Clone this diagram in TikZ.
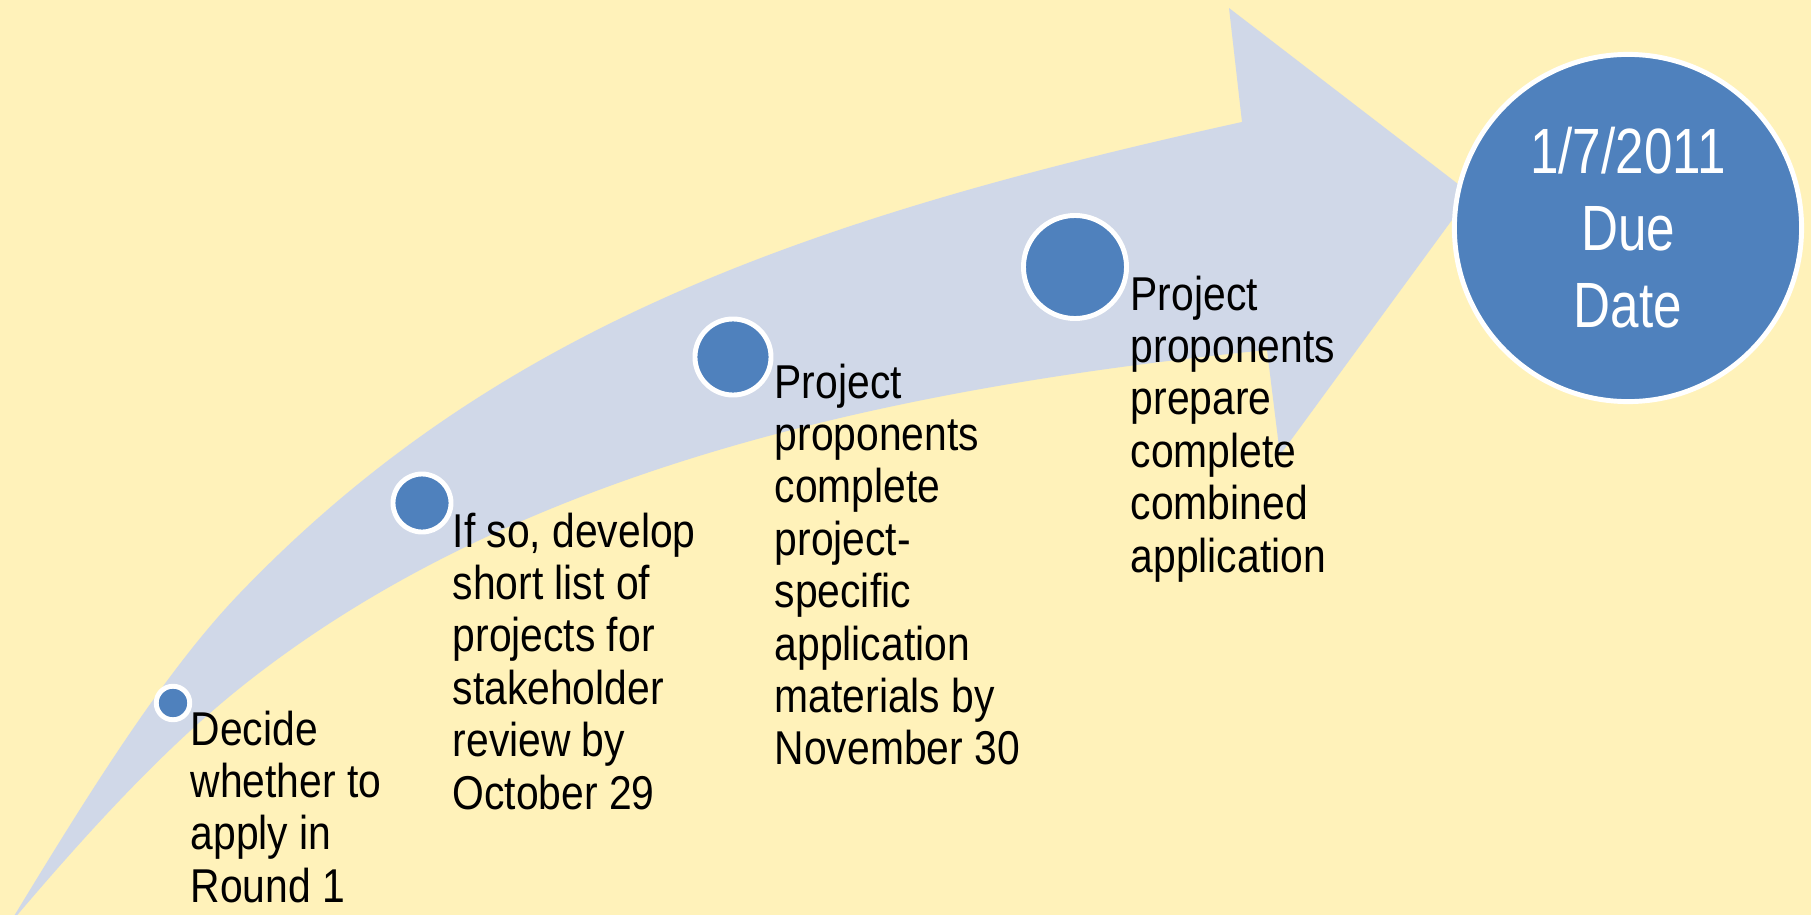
\documentclass[tikz,border=0pt]{standalone}
\usepackage{fontspec}
\setmainfont{Liberation Sans}
\newfontfamily\stepfont{Liberation Sans}[FakeStretch=0.86]
\newfontfamily\duefont{Liberation Sans}[FakeStretch=0.80]
\definecolor{bgyellow}{HTML}{FFF2BA}
\definecolor{arrowblue}{HTML}{D0D8E8}
\definecolor{dotblue}{HTML}{4F81BD}

\begin{document}
\begin{tikzpicture}[x=0.01cm, y=-0.01cm,
  dot/.style={circle, fill=dotblue, draw=white, line width=1.4pt, inner sep=0pt},
  steptext/.style={anchor=north west, align=left, inner sep=0pt,
    font=\stepfont\fontsize{13.5}{14.9}\selectfont}]
\fill[bgyellow] (0,0) rectangle (1811,915);
\clip (0,0) rectangle (1811,915);

% big curved arrow
\fill[arrowblue] (8,926) .. controls (85,799) and (163,673) .. (240,593)
  .. controls (490,333) and (792,221) .. (1242,122)
  -- (1229,8) -- (1471,194) -- (1280,455) -- (1267,350)
  .. controls (867,390) and (510,477) .. (250,680)
  .. controls (169,743) and (89,830) .. (8,926) -- cycle;

\node[dot, minimum size=3.47cm, text=white, align=center,
  font=\duefont\fontsize{18.2}{21.9}\selectfont] (due) at (1628,228) {1/7/2011\\Due\\Date};

\node[dot, minimum size=0.335cm] (decidedot) at (173,703) {};
\node[dot, minimum size=0.58cm] (listdot) at (422,503) {};
\node[dot, minimum size=0.76cm] (materialdot) at (733,357) {};
\node[dot, minimum size=1.03cm] (combinedot) at (1075,267) {};

\node[steptext] (decide) at (190,710) {Decide\\whether to\\apply in\\Round 1};
\node[steptext] (shortlist) at (452,512) {If so, develop\\short list of\\projects for\\stakeholder\\review by\\October 29};
\node[steptext] (materials) at (774,363) {Project\\proponents\\complete\\project-\\specific\\application\\materials by\\November 30};
\node[steptext] (combined) at (1130,275) {Project\\proponents\\prepare\\complete\\combined\\application};

\end{tikzpicture}
\end{document}
